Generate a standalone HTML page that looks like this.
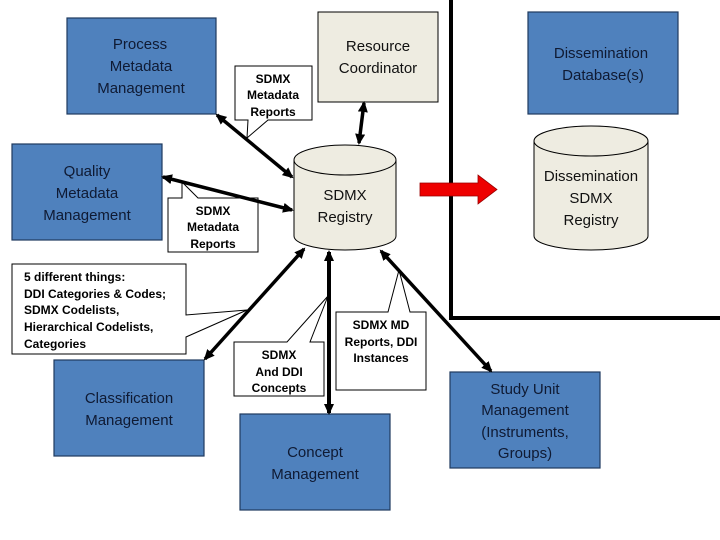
<!DOCTYPE html>
<html><head><style>
body{margin:0;width:720px;height:540px;background:#fff;position:relative;overflow:hidden;font-family:"Liberation Sans",sans-serif}
svg{position:absolute;left:0;top:0}
</style></head><body>
<svg width="720" height="540" viewBox="0 0 720 540" font-family="Liberation Sans, sans-serif">
<defs>
<marker id="a" markerWidth="11" markerHeight="10" refX="9" refY="5" orient="auto-start-reverse" markerUnits="userSpaceOnUse"><path d="M0,0 L11,5 L0,10 z" fill="#000"/></marker>
</defs>
<path d="M451,0 V318 H720" fill="none" stroke="#000" stroke-width="4"/>
<g stroke="#1f3a5f" stroke-width="1.2" fill="#4f81bd">
<rect x="67" y="18" width="149" height="96"/>
<rect x="12" y="144" width="150" height="96"/>
<rect x="54" y="360" width="150" height="96"/>
<rect x="240" y="414" width="150" height="96"/>
<rect x="450" y="372" width="150" height="96"/>
<rect x="528" y="12" width="150" height="102"/>
</g>
<rect x="318" y="12" width="120" height="90" fill="#eeece1" stroke="#000"/>
<g fill="#eeece1" stroke="#000">
<path d="M294,160 V236 A51,14 0 0 0 396,236 V160"/>
<ellipse cx="345" cy="160" rx="51" ry="15"/>
<path d="M534,141 V236 A57,14 0 0 0 648,236 V141"/>
<ellipse cx="591" cy="141" rx="57" ry="15"/>
</g>
<path d="M420,183 H478 V175 L497,189.5 L478,204 V196 H420 z" fill="#e00" stroke="#900" stroke-width="0.8"/>
<g fill="#fff" stroke="#000" stroke-width="1">
<path d="M235,66 H312 V120 H268 L247,138 L248,120 H235 z"/>
<path d="M168,198 H182 V182 L198,198 H258 V252 H168 z"/>
<path d="M12,264 H186 V315 L247,310 L186,337 V354 H12 z"/>
<path d="M234,342 H287 L328,296 L310,342 H324 V396 H234 z"/>
<path d="M336,312 H388 L399,270 L410,312 H426 V390 H336 z"/>
</g>
<g stroke="#000" fill="none">
<line x1="217" y1="115" x2="292" y2="177" marker-start="url(#a)" marker-end="url(#a)" stroke-width="3.5"/>
<line x1="163" y1="177" x2="292" y2="210" marker-start="url(#a)" marker-end="url(#a)" stroke-width="3.5"/>
<line x1="364" y1="103" x2="359" y2="143" marker-start="url(#a)" marker-end="url(#a)" stroke-width="3.5"/>
<line x1="304" y1="249" x2="205" y2="359" marker-start="url(#a)" marker-end="url(#a)" stroke-width="3.5"/>
<line x1="329" y1="252" x2="329" y2="413" marker-start="url(#a)" marker-end="url(#a)" stroke-width="4"/>
<line x1="381" y1="251" x2="491" y2="371" marker-start="url(#a)" marker-end="url(#a)" stroke-width="3.5"/>
</g>
<g font-size="15" text-anchor="middle" fill="#0f1a33">
<text x="140" y="49">Process</text><text x="141" y="71">Metadata</text><text x="141" y="93">Management</text>
<text x="87" y="176">Quality</text><text x="87" y="198">Metadata</text><text x="87" y="220">Management</text>
<text x="129" y="403">Classification</text><text x="129" y="425">Management</text>
<text x="315" y="457">Concept</text><text x="315" y="479">Management</text>
<text x="525" y="394">Study Unit</text><text x="525" y="415">Management</text><text x="525" y="437">(Instruments,</text><text x="525" y="458">Groups)</text>
<text x="601" y="58">Dissemination</text><text x="603" y="80">Database(s)</text>
</g>
<g font-size="15" text-anchor="middle" fill="#111">
<text x="378" y="51">Resource</text><text x="378" y="73">Coordinator</text>
<text x="345" y="200">SDMX</text><text x="345" y="222">Registry</text>
<text x="591" y="181">Dissemination</text><text x="591" y="203">SDMX</text><text x="591" y="225">Registry</text>
</g>
<g font-size="12" text-anchor="middle" fill="#000" font-weight="bold">
<text x="273" y="83">SDMX</text><text x="273" y="99">Metadata</text><text x="273" y="116">Reports</text>
<text x="213" y="215">SDMX</text><text x="213" y="231">Metadata</text><text x="213" y="248">Reports</text>
<text x="279" y="359">SDMX</text><text x="279" y="376">And DDI</text><text x="279" y="392">Concepts</text>
<text x="381" y="329">SDMX MD</text><text x="381" y="346">Reports, DDI</text><text x="381" y="362">Instances</text>
</g>
<g font-size="12" fill="#000" font-weight="bold">
<text x="24" y="281">5 different things:</text>
<text x="24" y="298">DDI Categories &amp; Codes;</text>
<text x="24" y="314">SDMX Codelists,</text>
<text x="24" y="331">Hierarchical Codelists,</text>
<text x="24" y="348">Categories</text>
</g>
</svg>
</body></html>
